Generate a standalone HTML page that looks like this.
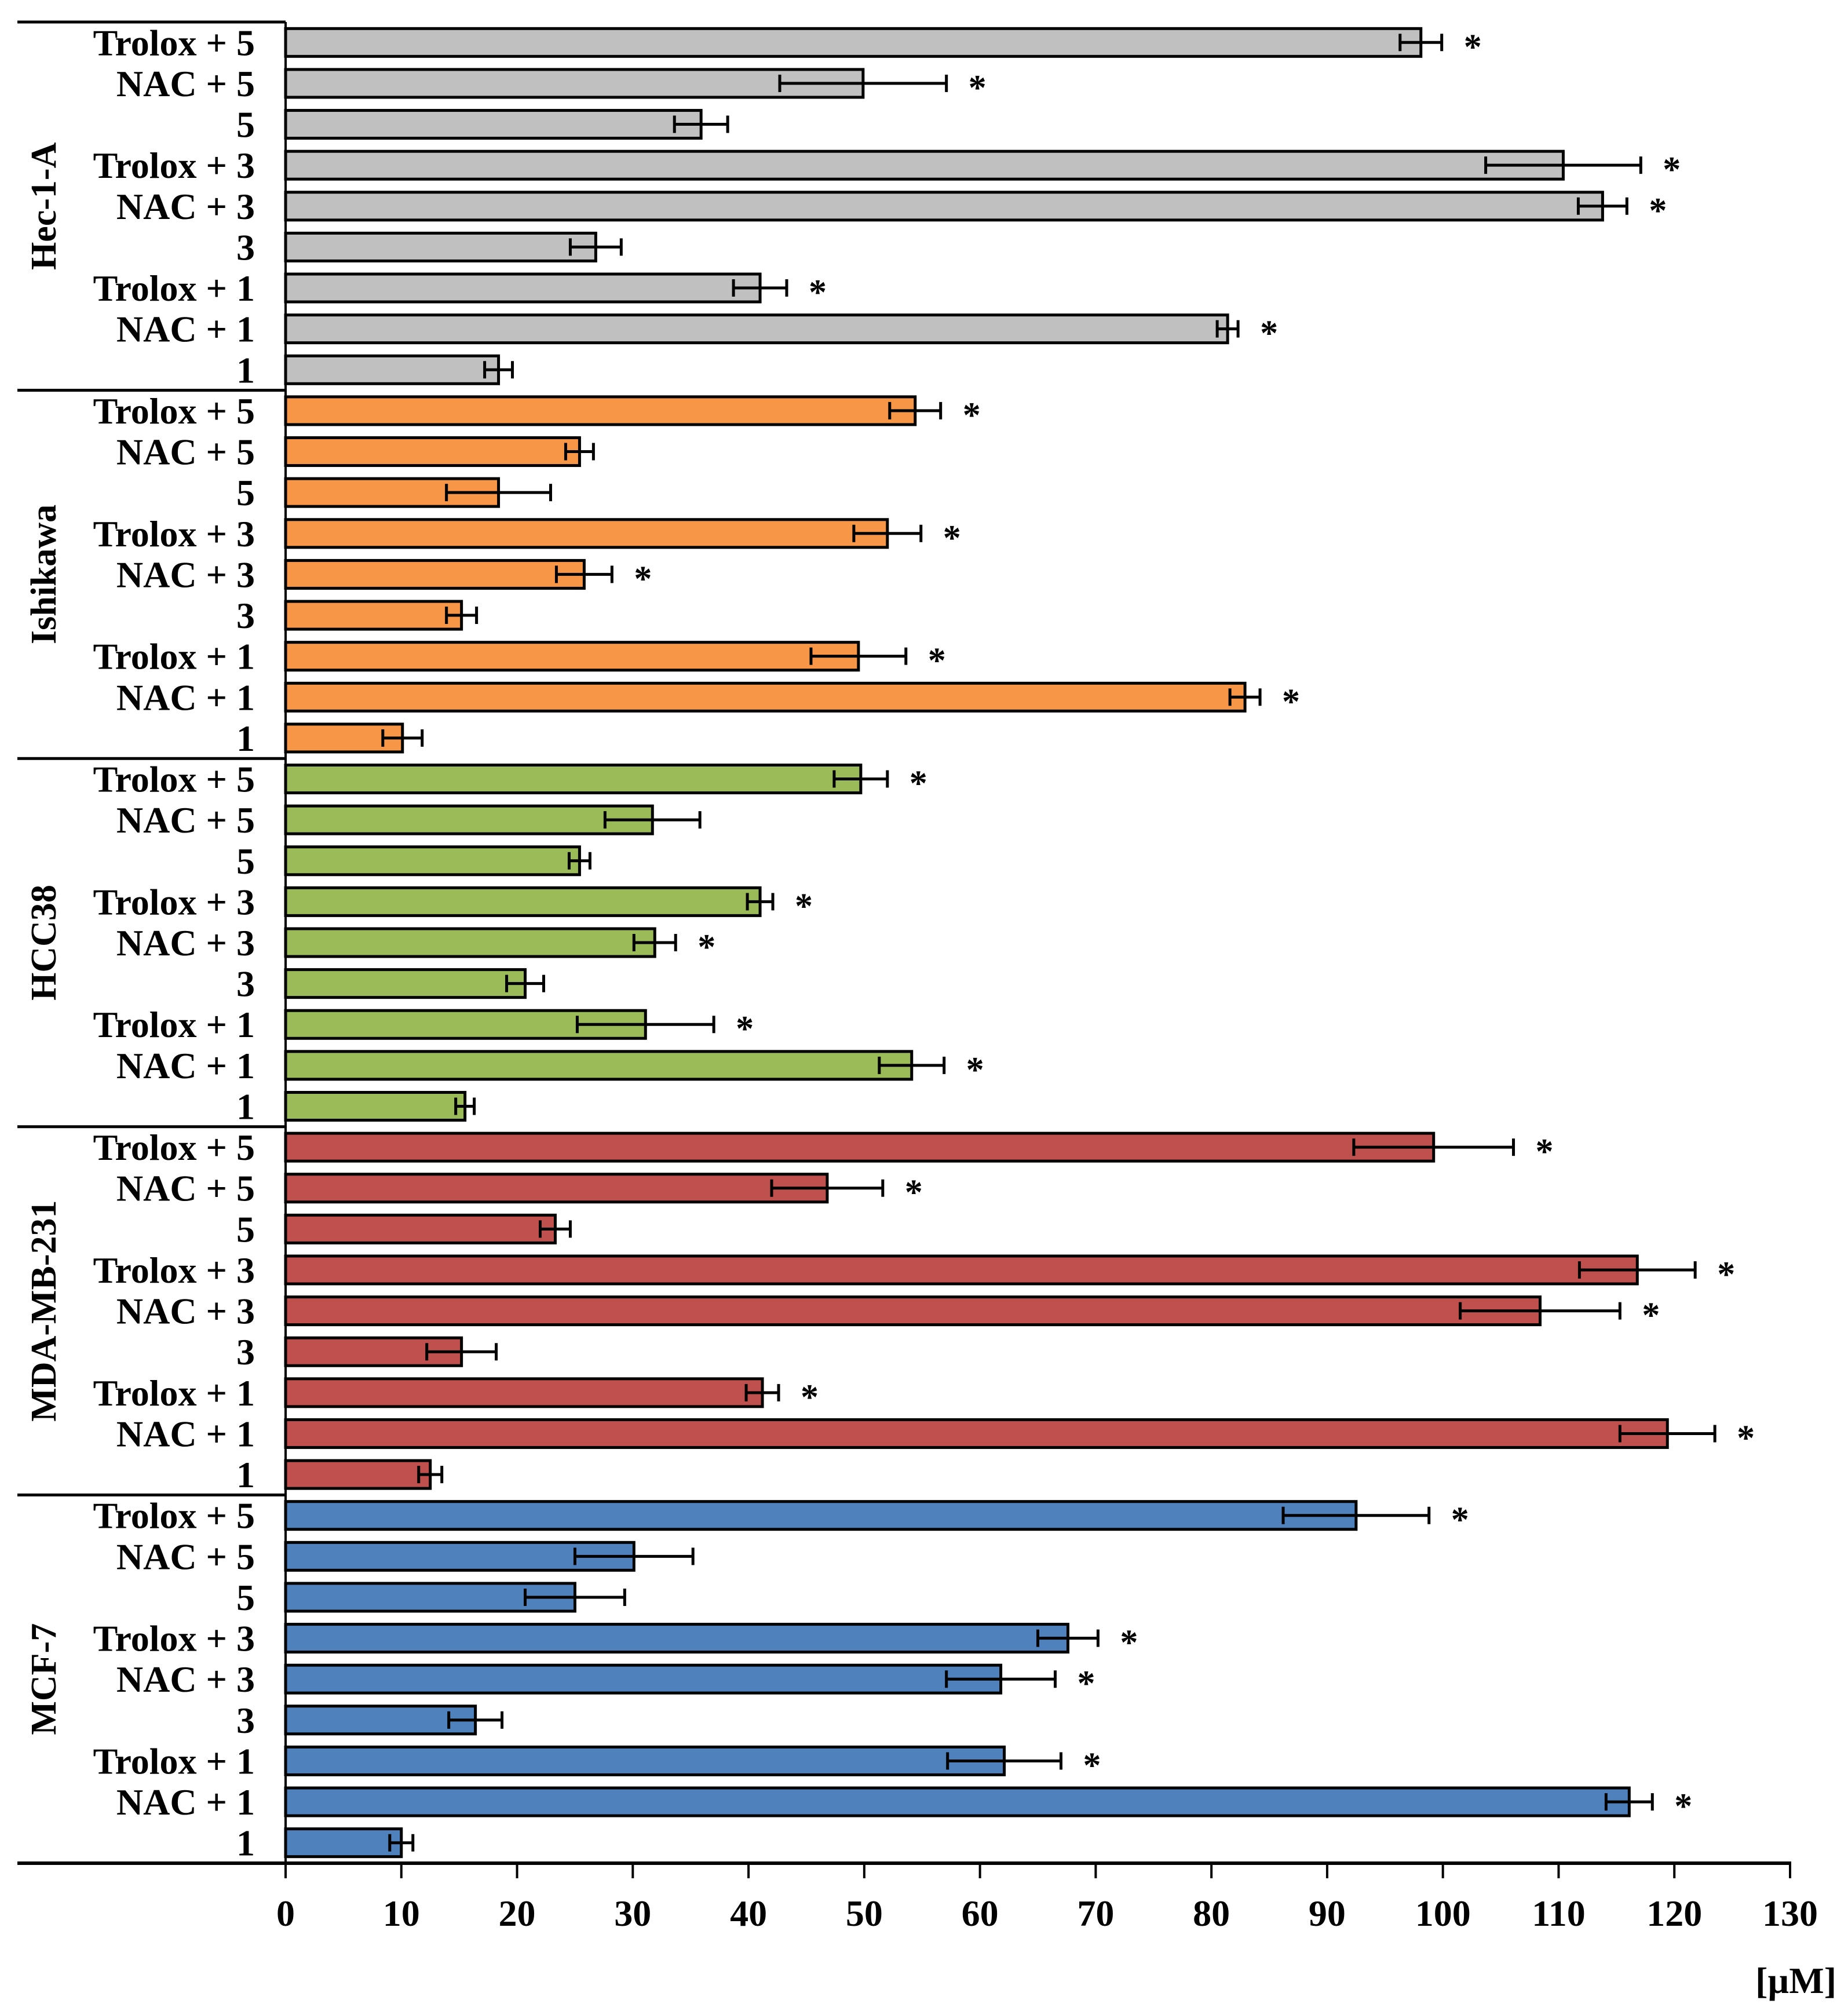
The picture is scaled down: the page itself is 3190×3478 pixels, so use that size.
<!DOCTYPE html>
<html><head><meta charset="utf-8"><style>
html,body{margin:0;padding:0;background:#fff;}
svg{display:block;}
text{font-family:"Liberation Serif",serif;}
</style></head><body>
<svg id="chart" width="3190" height="3478" viewBox="0 0 3190 3478" xmlns="http://www.w3.org/2000/svg"></svg>
<script>
const groups = ["Hec-1-A","Ishikawa","HCC38","MDA-MB-231","MCF-7"];
const categories = ["Trolox + 5","NAC + 5 ","5","Trolox + 3","NAC + 3","3","Trolox + 1","NAC + 1","1"];
const colors = ["#c0c0c0","#f79646","#9bbb59","#c0504d","#4f81bd"];
const valsHec = [98.1,49.9,35.9,110.4,113.8,26.8,41.0,81.4,18.4];
const errHec  = [1.8,7.2,2.3,6.7,2.1,2.2,2.3,0.9,1.2];
const sigHec  = [1,1,0,1,1,0,1,1,0];
const valsIsh = [54.4,25.4,18.4,52.0,25.8,15.2,49.5,82.9,10.1];
const errIsh  = [2.2,1.2,4.5,2.9,2.4,1.3,4.1,1.3,1.7];
const sigIsh  = [1,0,0,1,1,0,1,1,0];
const valsHcc = [49.7,31.7,25.4,41.0,31.9,20.7,31.1,54.1,15.5];
const errHcc  = [2.3,4.1,0.9,1.1,1.8,1.6,5.9,2.8,0.8];
const sigHcc  = [1,0,0,1,1,0,1,1,0];
const valsMda = [99.2,46.8,23.3,116.8,108.4,15.2,41.2,119.4,12.5];
const errMda  = [6.9,4.8,1.3,5.0,6.9,3.0,1.4,4.1,1.0];
const sigMda  = [1,1,0,1,1,0,1,1,0];
const valsMcf = [92.5,30.1,25.0,67.6,61.8,16.4,62.1,116.1,10.0];
const errMcf  = [6.3,5.1,4.3,2.6,4.7,2.3,4.9,2.0,1.0];
const sigMcf  = [1,0,0,1,1,0,1,1,0];
const xTicks = [0,10,20,30,40,50,60,70,80,90,100,110,120,130];

const allVals=[valsHec,valsIsh,valsHcc,valsMda,valsMcf];
const allErr=[errHec,errIsh,errHcc,errMda,errMcf];
const allSig=[sigHec,sigIsh,sigHcc,sigMda,sigMcf];
const NS="http://www.w3.org/2000/svg";
const svg=document.getElementById('chart');
const X0=493, X1=3090, Y0=38, Y1=3216;
const nRows=groups.length*categories.length;
const rowH=(Y1-Y0)/nRows;
const xs=v=>X0+(X1-X0)*v/130;
const yc=i=>Y0+rowH*(i+0.5);
function mk(tag,attrs,txt){const e=document.createElementNS(NS,tag);for(const k in attrs)e.setAttribute(k,attrs[k]);if(txt!==undefined)e.textContent=txt;svg.appendChild(e);return e;}

groups.forEach((g,gi)=>{
  const gTop=Y0+gi*categories.length*rowH;
  const sep=mk('line',{x1:30,x2:X0,y1:gTop,y2:gTop,stroke:'#000','stroke-width':5});
  
  
  const cy=gTop+categories.length*rowH/2;
  const gl=mk('text',{x:0,y:0,transform:`translate(96,${cy}) rotate(-90)`,'text-anchor':'middle','font-size':62,'font-weight':'bold'},g);
  
  
  categories.forEach((c,ci)=>{
    const i=gi*categories.length+ci;
    const y=yc(i);
    const v=allVals[gi][ci], e=allErr[gi][ci];
    const lab=mk('text',{x:440,y:y+22,'text-anchor':'end','font-size':64,'font-weight':'bold','xml:space':'preserve'},c);
    
    
    const bar=mk('rect',{x:X0,y:y-24,width:xs(v)-X0,height:48,fill:colors[gi],stroke:'#000','stroke-width':5});
    
    
    const eb=mk('path',{d:`M${xs(v-e)},${y}H${xs(v+e)}M${xs(v-e)},${y-15}V${y+15}M${xs(v+e)},${y-15}V${y+15}`,stroke:'#000','stroke-width':5,fill:'none'});
    
    
    if(allSig[gi][ci]){
      const st=mk('text',{x:xs(v+e)+38,y:y+28,'font-size':62,'font-weight':'bold'},'*');
      
      
    }
  });
});
const va=mk('line',{x1:X0,x2:X0,y1:Y0,y2:Y1,stroke:'#000','stroke-width':4});


const ha=mk('line',{x1:30,x2:X1+2,y1:Y1,y2:Y1,stroke:'#000','stroke-width':6});


xTicks.forEach(t=>{
  const tk=mk('line',{x1:xs(t),x2:xs(t),y1:Y1,y2:Y1+26,stroke:'#000','stroke-width':4});
  
  
  const tl=mk('text',{x:xs(t),y:3324,'text-anchor':'middle','font-size':64,'font-weight':'bold'},String(t));
  
  
});
const xt=mk('text',{x:3170,y:3440,'text-anchor':'end','font-size':64,'font-weight':'bold'},'[µM]');


</script>
</body></html>
